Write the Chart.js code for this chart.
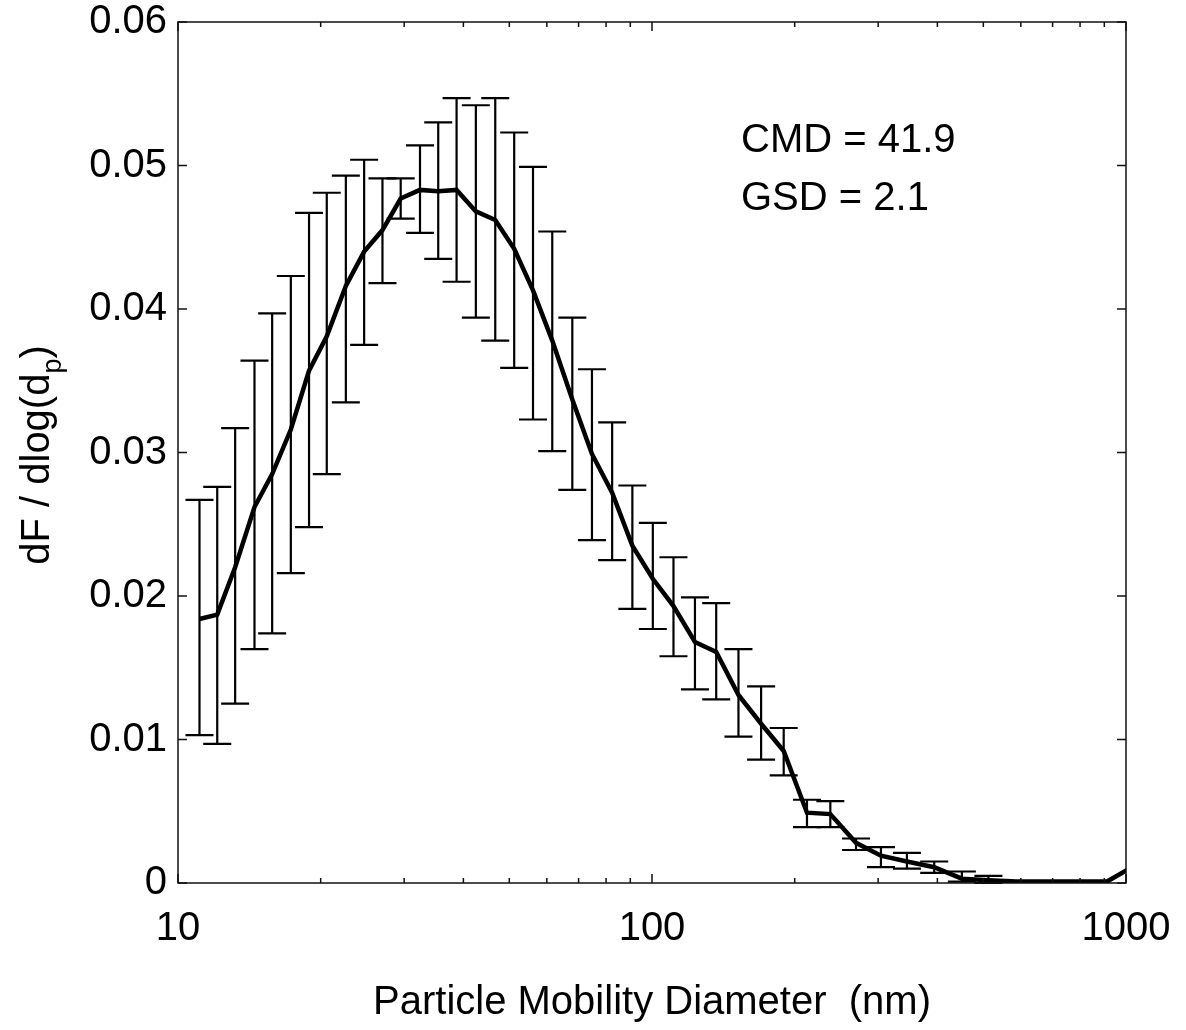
<!DOCTYPE html>
<html lang="en">
  <head>
    <meta charset="UTF-8" />
    <title>dF / dlog(dp) vs Particle Mobility Diameter</title>
    <script src="https://cdn.jsdelivr.net/npm/chart.js@4.4.1/dist/chart.umd.min.js"></script>
    <style>
      html, body { margin: 0; padding: 0; background: #fff; }
    </style>
  </head>
  <body>
    <canvas id="myChart" width="1186" height="1030"></canvas>

    <script>
      // particle mobility diameter (nm)
      const diameters = [11.1, 12.1, 13.2, 14.5, 15.8, 17.3, 18.9, 20.6, 22.6, 24.7, 27.0, 29.5, 32.4, 35.4, 38.7, 42.5, 46.7, 51.2, 56.1, 61.6, 67.9, 74.7, 82.4, 90.9, 100.4, 111.0, 123.2, 136.6, 152.2, 169.9, 189.6, 212.3, 237.8, 269.4, 304.1, 345.0, 393.9, 450.6, 512.5, 586.5, 671.8, 769.6, 912, 1030];
      // mean dF / dlog(dp)
      const fraction = [0.0184, 0.0187, 0.0220, 0.0262, 0.0285, 0.0316, 0.0357, 0.0381, 0.0416, 0.0440, 0.0455, 0.0477, 0.0483, 0.0482, 0.0483, 0.0468, 0.0462, 0.0442, 0.0413, 0.0378, 0.0337, 0.0299, 0.0272, 0.0235, 0.0212, 0.0193, 0.0168, 0.0161, 0.0131, 0.0111, 0.0092, 0.0049, 0.0048, 0.0028, 0.0019, 0.0015, 0.0011, 0.0003, 0.0002, 0.0001, 0.0001, 0.0001, 0.0001, 0.0011];
      // error bar ends
      const errTop = [0.0267, 0.0276, 0.0317, 0.0364, 0.0397, 0.0423, 0.0467, 0.0481, 0.0493, 0.0504, 0.0491, 0.0491, 0.0514, 0.0530, 0.0547, 0.0542, 0.0547, 0.0523, 0.0499, 0.0454, 0.0394, 0.0358, 0.0321, 0.0277, 0.0251, 0.0227, 0.0199, 0.0195, 0.0163, 0.0137, 0.0108, 0.0058, 0.0057, 0.0031, 0.0025, 0.0021, 0.0015, 0.0008, 0.0005, null, null, null, null, null];
      const errBottom = [0.0103, 0.0097, 0.0125, 0.0163, 0.0174, 0.0216, 0.0248, 0.0285, 0.0335, 0.0375, 0.0418, 0.0463, 0.0453, 0.0435, 0.0419, 0.0394, 0.0378, 0.0359, 0.0323, 0.0301, 0.0274, 0.0239, 0.0225, 0.0191, 0.0177, 0.0158, 0.0135, 0.0128, 0.0102, 0.0086, 0.0075, 0.0039, 0.0039, 0.0023, 0.0011, 0.0010, 0.0007, 0.0001, 0.0000, null, null, null, null, null];

      const xMajor = [10, 100, 1000];
      const xMinor = [20, 30, 40, 50, 60, 70, 80, 90, 200, 300, 400, 500, 600, 700, 800, 900];
      const yMajor = [0, 0.01, 0.02, 0.03, 0.04, 0.05, 0.06];
      const statText = ["CMD = 41.9", "GSD = 2.1"];

      const FONT = "'Liberation Sans', Arial, Helvetica, sans-serif";

      // error bars, box, inward ticks and the extra texts
      const decorations = {
        id: "decorations",
        beforeDatasetsDraw(chart) {
          const { ctx, scales: { x, y } } = chart;
          ctx.save();
          ctx.strokeStyle = "#000";
          ctx.lineWidth = 2.2;
          diameters.forEach((d, i) => {
            if (errTop[i] == null) return;
            const px = x.getPixelForValue(d);
            const t = y.getPixelForValue(errTop[i]);
            const b = y.getPixelForValue(errBottom[i]);
            ctx.beginPath();
            ctx.moveTo(px, t); ctx.lineTo(px, b);
            ctx.moveTo(px - 14, t); ctx.lineTo(px + 14, t);
            ctx.moveTo(px - 14, b); ctx.lineTo(px + 14, b);
            ctx.stroke();
          });
          ctx.restore();
        },
        afterDraw(chart) {
          const { ctx, chartArea: a, scales: { x, y } } = chart;
          ctx.save();
          ctx.strokeStyle = "#111";
          ctx.lineWidth = 1.5;
          ctx.strokeRect(a.left, a.top, a.right - a.left, a.bottom - a.top);

          ctx.beginPath();
          yMajor.forEach(v => {
            const py = y.getPixelForValue(v);
            ctx.moveTo(a.left, py); ctx.lineTo(a.left + 9, py);
            ctx.moveTo(a.right, py); ctx.lineTo(a.right - 9, py);
          });
          xMajor.forEach(v => {
            const px = x.getPixelForValue(v);
            ctx.moveTo(px, a.bottom); ctx.lineTo(px, a.bottom - 9);
            ctx.moveTo(px, a.top); ctx.lineTo(px, a.top + 9);
          });
          xMinor.forEach(v => {
            const px = x.getPixelForValue(v);
            ctx.moveTo(px, a.bottom); ctx.lineTo(px, a.bottom - 5);
            ctx.moveTo(px, a.top); ctx.lineTo(px, a.top + 5);
          });
          ctx.stroke();

          // CMD / GSD annotation
          ctx.fillStyle = "#000";
          ctx.font = "40px " + FONT;
          ctx.textAlign = "left";
          ctx.textBaseline = "alphabetic";
          ctx.fillText(statText[0], 741, 152);
          ctx.fillText(statText[1], 741, 210);

          // y axis title with subscript p
          const main = "dF / dlog(d";
          ctx.translate(49, 455);
          ctx.rotate(-Math.PI / 2);
          ctx.font = "40px " + FONT;
          const w1 = ctx.measureText(main).width;
          const w3 = ctx.measureText(")").width;
          ctx.font = "27px " + FONT;
          const w2 = ctx.measureText("p").width;
          let start = -(w1 + w2 + w3) / 2;
          ctx.font = "40px " + FONT;
          ctx.fillText(main, start, 0);
          ctx.font = "27px " + FONT;
          ctx.fillText("p", start + w1, 12);
          ctx.font = "40px " + FONT;
          ctx.fillText(")", start + w1 + w2, 0);
          ctx.restore();
        }
      };

      const ctx = document.getElementById("myChart").getContext("2d");
      new Chart(ctx, {
        type: "line",
        data: {
          datasets: [
            {
              label: "dF / dlog(dp)",
              data: diameters.map((d, i) => ({ x: d, y: fraction[i] })),
              borderColor: "#000",
              borderWidth: 4.5,
              pointRadius: 0,
              tension: 0,
              fill: false
            }
          ]
        },
        options: {
          responsive: false,
          animation: false,
          layout: { padding: { left: 0, top: 22, right: 60, bottom: 3 } },
          plugins: { legend: { display: false }, tooltip: { enabled: false } },
          scales: {
            x: {
              type: "logarithmic",
              min: 10,
              max: 1000,
              afterFit: s => {
                s.height = 144;
                s.paddingLeft = 0;
                s.paddingRight = 0;
              },
              afterBuildTicks: s => { s.ticks = xMajor.map(v => ({ value: v })); },
              grid: { display: false, drawTicks: false },
              border: { display: false },
              ticks: {
                autoSkip: false,
                maxRotation: 0,
                padding: 22,
                color: "#000",
                font: { family: FONT, size: 40 },
                callback: v => String(v)
              },
              title: {
                display: true,
                text: "Particle Mobility Diameter  (nm)",
                color: "#000",
                font: { family: FONT, size: 40 },
                padding: { top: 0, bottom: 0 }
              }
            },
            y: {
              min: 0,
              max: 0.06,
              afterFit: s => {
                s.width = 178;
                s.paddingTop = 0;
                s.paddingBottom = 0;
              },
              afterBuildTicks: s => { s.ticks = yMajor.map(v => ({ value: v })); },
              grid: { display: false, drawTicks: false },
              border: { display: false },
              ticks: {
                padding: 11,
                color: "#000",
                font: { family: FONT, size: 40, lineHeight: 1 },
                callback: v => (v === 0 ? "0" : v.toFixed(2))
              }
            }
          }
        },
        plugins: [decorations]
      });
    </script>
  </body>
</html>
